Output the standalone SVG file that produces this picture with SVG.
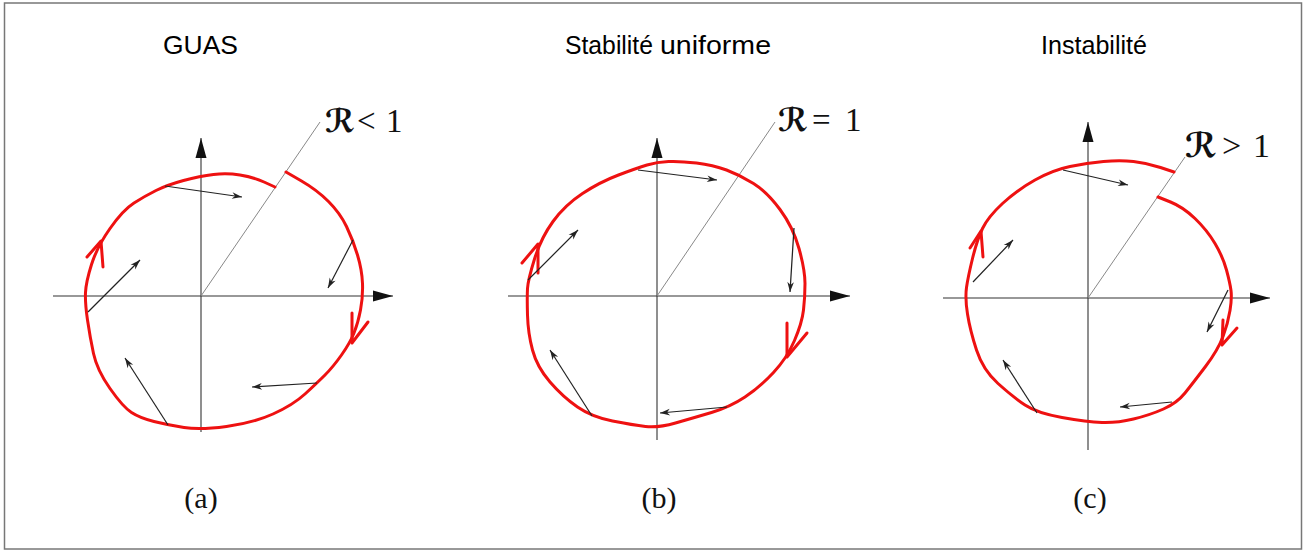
<svg xmlns="http://www.w3.org/2000/svg" width="1313" height="551" viewBox="0 0 1313 551">
<defs>
<style>
.frame{fill:#fff;stroke:#777;stroke-width:1.5}
.axis{stroke:#333;stroke-width:1.1;fill:none}
.radial{stroke:#888;stroke-width:1;fill:none}
.orbit{stroke:#ee1111;stroke-width:3;fill:none;stroke-linejoin:round;stroke-linecap:round}
.vec{stroke:#222;stroke-width:1.2;fill:none}
.title{font-family:"Liberation Sans",Arial,sans-serif;font-size:25px;fill:#000}
.cap{font-family:"Liberation Serif","Times New Roman",serif;font-size:30px;fill:#111;text-anchor:middle}
.rl{font-family:"Liberation Serif","Times New Roman",serif;font-size:33px;fill:#111}
.cal{font-family:"DejaVu Sans","DejaVu Serif",sans-serif;font-size:32px;font-weight:bold}
</style>
<marker id="ax" viewBox="-20 -6 21 12" refX="0" refY="0" markerWidth="21" markerHeight="12" markerUnits="userSpaceOnUse" orient="auto">
<path d="M0,0 L-20,-5.5 L-20,5.5 Z" fill="#111"/>
</marker>
<marker id="vh" viewBox="-11 -5 12 10" refX="0" refY="0" markerWidth="12" markerHeight="10" markerUnits="userSpaceOnUse" orient="auto">
<path d="M0,0 L-10,-3.3 L-7,0 L-10,3.3 Z" fill="#222"/>
</marker>
</defs>
<rect class="frame" x="4.5" y="3" width="1297" height="546"/>

<g id="panel-a">
<text class="title" x="163" y="54" textLength="75" lengthAdjust="spacingAndGlyphs">GUAS</text>
<g id="axes-a">
<line class="axis" x1="53" y1="296" x2="393" y2="296" marker-end="url(#ax)"/>
<line class="axis" x1="201" y1="432" x2="201" y2="138" marker-end="url(#ax)"/>
<line class="radial" x1="201" y1="296" x2="320" y2="122"/>
</g>
<text class="rl" y="132"><tspan class="cal" x="325">ℛ</tspan><tspan x="357">&lt;</tspan><tspan x="386">1</tspan></text>
<path class="orbit" d="M286,172 L301.5,181 Q317,190 328.5,201.5 Q340,213 346.5,226.5 Q353,240 357.5,255 Q362,270 362.5,283.5 Q363,297 360.5,310 Q358,323 354,333 Q350,343 341.5,355 Q333,367 325,375 Q317,383 305,394 Q293,405 273,414 Q253,423 226.5,426.5 Q200,430 184,427.5 Q168,425 154,421.5 Q140,418 131.5,412.5 Q123,407 110,388.5 Q97,370 93.5,353.5 Q90,337 87.5,320 Q85,303 85.5,292.5 Q86,282 91.5,264.5 Q97,247 110,228.5 Q123,210 134,203 Q145,196 156,190.5 Q167,185 183.5,180.5 Q200,176 213.5,174.5 Q227,173 240,175 Q253,177 264,182 L275,187"/>
<path class="orbit" d="M87,257 L101,241 L103,267"/>
<path class="orbit" d="M352,313 L352,343 L368,322"/>
<text class="cap" x="201" y="508">(a)</text>
</g>

<g id="panel-b">
<text class="title" y="54"><tspan x="565" textLength="88" lengthAdjust="spacingAndGlyphs">Stabilité</tspan><tspan x="660" textLength="111" lengthAdjust="spacingAndGlyphs">uniforme</tspan></text>
<g id="axes-b">
<line class="axis" x1="508" y1="296" x2="850" y2="296" marker-end="url(#ax)"/>
<line class="axis" x1="657" y1="440" x2="657" y2="138" marker-end="url(#ax)"/>
<line class="radial" x1="657" y1="296" x2="775" y2="122"/>
</g>
<text class="rl" y="131"><tspan class="cal" x="778">ℛ</tspan><tspan x="812">=</tspan><tspan x="845">1</tspan></text>
<path class="orbit" d="M668.5,161.5 Q680,161 696.5,163 Q713,165 726.5,170 Q740,175 753.5,183.5 Q767,192 780,209.5 Q793,227 799,248.5 Q805,270 805,283.5 Q805,297 803.5,310 Q802,323 794.5,340.5 Q787,358 773.5,372.5 Q760,387 745,397 Q730,407 711.5,412.5 Q693,418 675.5,423 Q658,428 645.5,426.5 Q633,425 612.5,421 Q592,417 577.5,407 Q563,397 550,382 Q537,367 532.5,350 Q528,333 527.5,315 Q527,297 527.5,288.5 Q528,280 534.5,259 Q541,238 553,221.5 Q565,205 582.5,193.5 Q600,182 618.5,175 Q637,168 647,165 Q657,162 668.5,161.5 Z"/>
<path class="orbit" d="M522,263 L538,244 L538,273"/>
<path class="orbit" d="M787,323 L787,357 L807,333"/>
<text class="cap" x="659" y="508">(b)</text>
</g>

<g id="panel-c">
<text class="title" x="1041" y="54" textLength="106" lengthAdjust="spacingAndGlyphs">Instabilité</text>
<g id="axes-c">
<line class="axis" x1="943" y1="298" x2="1270" y2="298" marker-end="url(#ax)"/>
<line class="axis" x1="1088" y1="450" x2="1088" y2="122" marker-end="url(#ax)"/>
<line class="radial" x1="1088" y1="298" x2="1185" y2="157"/>
</g>
<text class="rl" y="157" style="font-size:34px"><tspan class="cal" x="1185" style="font-size:34px">ℛ</tspan><tspan x="1222">&gt;</tspan><tspan x="1253">1</tspan></text>
<path class="orbit" d="M1158,197 L1170.5,202 Q1183,207 1195,218.5 Q1207,230 1215,243.5 Q1223,257 1226.5,270 Q1230,283 1231,290.5 Q1232,298 1230,310.5 Q1228,323 1223,336.5 Q1218,350 1205.5,366.5 Q1193,383 1185,393 Q1177,403 1163.5,409 Q1150,415 1133.5,419 Q1117,423 1102,422.5 Q1087,422 1062,417.5 Q1037,413 1025,405 Q1013,397 998,383.5 Q983,370 976.5,350 Q970,330 967.5,314 Q965,298 966.5,287.5 Q968,277 972.5,258.5 Q977,240 982.5,228.5 Q988,217 1002.5,203.5 Q1017,190 1035,180 Q1053,170 1070,166.5 Q1087,163 1103.5,161.5 Q1120,160 1133.5,161.5 Q1147,163 1160.5,167.5 L1174,172"/>
<path class="orbit" d="M970,248 L981,231 L983,257"/>
<path class="orbit" d="M1223,320 L1222,345 L1237,328"/>
<text class="cap" x="1090" y="508">(c)</text>
</g>

<g id="connectors">
<line class="vec" x1="165" y1="186" x2="242" y2="197" marker-end="url(#vh)"/>
<line class="vec" x1="353" y1="240" x2="328" y2="288" marker-end="url(#vh)"/>
<line class="vec" x1="88" y1="312" x2="140" y2="260" marker-end="url(#vh)"/>
<line class="vec" x1="168" y1="425" x2="125" y2="358" marker-end="url(#vh)"/>
<line class="vec" x1="317" y1="383" x2="252" y2="387" marker-end="url(#vh)"/>
<line class="vec" x1="638" y1="170" x2="717" y2="180" marker-end="url(#vh)"/>
<line class="vec" x1="794" y1="228" x2="790" y2="292" marker-end="url(#vh)"/>
<line class="vec" x1="528" y1="280" x2="578" y2="230" marker-end="url(#vh)"/>
<line class="vec" x1="592" y1="416" x2="550" y2="350" marker-end="url(#vh)"/>
<line class="vec" x1="727" y1="407" x2="660" y2="413" marker-end="url(#vh)"/>
<line class="vec" x1="1063" y1="170" x2="1128" y2="185" marker-end="url(#vh)"/>
<line class="vec" x1="1228" y1="290" x2="1207" y2="332" marker-end="url(#vh)"/>
<line class="vec" x1="973" y1="282" x2="1013" y2="240" marker-end="url(#vh)"/>
<line class="vec" x1="1037" y1="413" x2="1003" y2="360" marker-end="url(#vh)"/>
<line class="vec" x1="1172" y1="402" x2="1120" y2="407" marker-end="url(#vh)"/>
</g>
</svg>
